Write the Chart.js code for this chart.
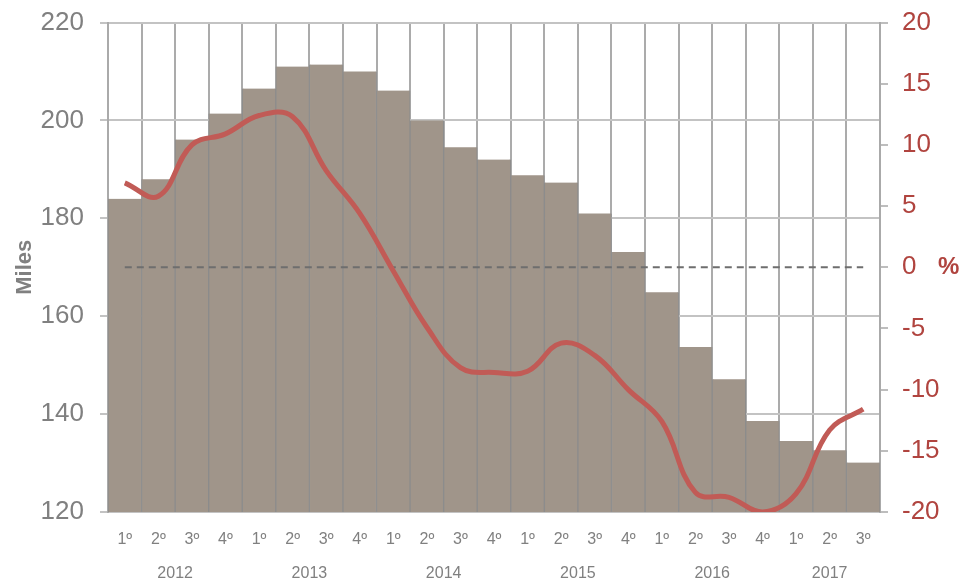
<!DOCTYPE html>
<html>
<head>
<meta charset="utf-8">
<script src="https://cdn.jsdelivr.net/npm/chart.js@4/dist/chart.umd.min.js"></script>
<style>
  html, body { margin: 0; padding: 0; background: #fff; }
  #wrap { width: 963px; height: 580px; position: relative; }
</style>
</head>
<body>
<div id="wrap"><canvas id="chart"></canvas></div>
<script>
// quarter labels, grouped by year underneath
const quarters = ['1º','2º','3º','4º','1º','2º','3º','4º','1º','2º','3º','4º',
                  '1º','2º','3º','4º','1º','2º','3º','4º','1º','2º','3º'];
const years = ['2012', '2013', '2014', '2015', '2016', '2017'];
const quartersPerYear = [4, 4, 4, 4, 4, 3];

// bars: Miles (left axis)
const miles = [184.0, 188.0, 196.1, 201.4, 206.5, 211.0, 211.4, 210.0, 206.1, 200.0, 194.5, 192.0,
               188.8, 187.3, 181.0, 173.1, 164.9, 153.7, 147.1, 138.6, 134.5, 132.6, 130.1];
// line: % change (right axis)
const change = [6.9, 5.8, 10.0, 10.9, 12.4, 12.3, 7.9, 4.4, -0.3, -4.9, -8.2, -8.6,
                -8.5, -6.2, -7.2, -10.0, -12.6, -18.4, -18.8, -20.0, -18.5, -13.3, -11.6];
// dashed reference at 0 %
const zeroLine = [0, 0, 0, 0, 0, 0, 0, 0, 0, 0, 0, 0, 0, 0, 0, 0, 0, 0, 0, 0, 0, 0, 0];

const gray = '#808080';
const red = '#b0443f';
const FONT = "'Liberation Sans', Arial, sans-serif";

// year labels under the quarters + the "%" unit next to the right axis
const extraLabels = {
  id: 'extraLabels',
  afterDraw(chart) {
    const { ctx, scales } = chart;
    const x = scales.x;
    ctx.save();
    ctx.font = '16px ' + FONT;
    ctx.fillStyle = gray;
    ctx.textAlign = 'center';
    ctx.textBaseline = 'middle';
    let start = 0;
    years.forEach((yr, i) => {
      const end = start + quartersPerYear[i] - 1;
      const cx = (x.getPixelForValue(start) + x.getPixelForValue(end)) / 2;
      ctx.fillText(yr, cx, 574);
      start = end + 1;
    });
    ctx.font = 'bold 24px ' + FONT;
    ctx.fillStyle = red;
    ctx.textAlign = 'left';
    ctx.fillText('%', 938, scales.y2.getPixelForValue(0));
    ctx.restore();
  }
};

new Chart(document.getElementById('chart'), {
  data: {
    labels: quarters,
    datasets: [
      {
        type: 'line',
        data: change,
        yAxisID: 'y2',
        borderColor: '#c15b56',
        borderWidth: 5,
        tension: 0.4,
        pointRadius: 0,
        order: 0
      },
      {
        type: 'line',
        data: zeroLine,
        yAxisID: 'y2',
        borderColor: '#6e6e6e',
        borderWidth: 2,
        borderDash: [7, 5],
        pointRadius: 0,
        order: 1
      },
      {
        type: 'bar',
        data: miles,
        yAxisID: 'y',
        backgroundColor: '#a0958a',
        borderColor: '#8c8c8c',
        borderWidth: { left: 1, right: 1, top: 0, bottom: 0 },
        borderSkipped: false,
        barPercentage: 1,
        categoryPercentage: 1,
        order: 2
      }
    ]
  },
  options: {
    responsive: true,
    maintainAspectRatio: false,
    animation: false,
    layout: { padding: { top: 22, right: 0, left: 0, bottom: 0 } },
    plugins: { legend: { display: false }, tooltip: { enabled: false } },
    scales: {
      x: {
        offset: true,
        grid: { offset: true, color: '#ababab', lineWidth: 2, drawTicks: false },
        border: { display: false },
        ticks: { color: gray, font: { family: FONT, size: 16 }, padding: 18, maxRotation: 0, autoSkip: false },
        afterFit(s) { s.height = 68; }
      },
      y: {
        position: 'left',
        min: 120, max: 220,
        ticks: { stepSize: 20, color: gray, font: { family: FONT, size: 26, lineHeight: 0.5 }, padding: 16 },
        grid: { color: '#c3c3c3', lineWidth: 2, tickLength: 8 },
        border: { display: true, color: '#aaaaaa', width: 2 },
        title: { display: true, text: 'Miles', color: gray, font: { family: FONT, size: 22, weight: 'bold' }, padding: { top: 12, bottom: 0 } },
        afterFit(s) { s.width = 108; }
      },
      y2: {
        position: 'right',
        min: -20, max: 20,
        ticks: { stepSize: 5, color: red, font: { family: FONT, size: 26, lineHeight: 0.5 }, padding: 14 },
        grid: { drawOnChartArea: false, color: '#bdbdbd', lineWidth: 2, tickLength: 8 },
        border: { display: true, color: '#aaaaaa', width: 2 },
        afterFit(s) { s.width = 83; }
      }
    }
  },
  plugins: [extraLabels]
});
</script>
</body>
</html>
